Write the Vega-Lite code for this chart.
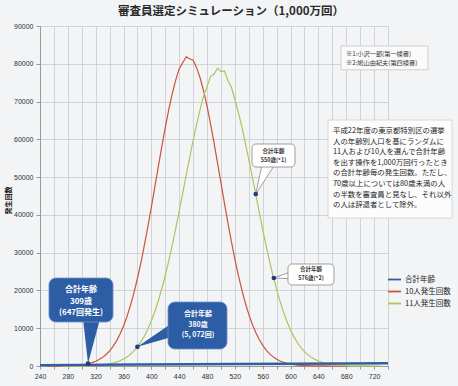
{
  "$schema": "https://vega.github.io/schema/vega-lite/v6.json",
  "width": 348,
  "height": 340,
  "autosize": "none",
  "padding": {"left": 40, "top": 26, "right": 70, "bottom": 20},
  "background": "#f2f4f6",
  "title": {"text": "審査員選定シミュレーション（1,000万回）", "fontSize": 11.5, "fontWeight": "bold", "font": "Noto Sans CJK JP", "color": "#2a2a2a", "anchor": "middle", "dx": 17, "baseline": "bottom", "offset": -6, "frame": "group"},
  "config": {
    "font": "Noto Sans CJK JP",
    "text": {"font": "Noto Sans CJK JP"},
    "legend": {"labelFont": "Noto Sans CJK JP"},
    "view": {"stroke": null},
    "axis": {"labelOverlap": false, "labelBound": false, "labelFlush": false, "grid": true, "gridColor": "#c6cacf", "gridWidth": 0.8, "tickColor": "#999", "domainColor": "#999", "labelFontSize": 7, "labelColor": "#333", "labelPadding": 3, "labelFont": "Liberation Sans", "titleFont": "Noto Sans CJK JP"}
  },
  "datasets": {
    "series": [
      {"age": 250, "series": "10人発生回数", "count": 8},
      {"age": 255, "series": "10人発生回数", "count": 12},
      {"age": 260, "series": "10人発生回数", "count": 18},
      {"age": 265, "series": "10人発生回数", "count": 26},
      {"age": 270, "series": "10人発生回数", "count": 38},
      {"age": 275, "series": "10人発生回数", "count": 52},
      {"age": 280, "series": "10人発生回数", "count": 69},
      {"age": 285, "series": "10人発生回数", "count": 104},
      {"age": 290, "series": "10人発生回数", "count": 153},
      {"age": 295, "series": "10人発生回数", "count": 224},
      {"age": 300, "series": "10人発生回数", "count": 324},
      {"age": 305, "series": "10人発生回数", "count": 462},
      {"age": 309, "series": "10人発生回数", "count": 647},
      {"age": 315, "series": "10人発生回数", "count": 908},
      {"age": 320, "series": "10人発生回数", "count": 1250},
      {"age": 325, "series": "10人発生回数", "count": 1702},
      {"age": 330, "series": "10人発生回数", "count": 2289},
      {"age": 335, "series": "10人発生回数", "count": 3043},
      {"age": 340, "series": "10人発生回数", "count": 3998},
      {"age": 345, "series": "10人発生回数", "count": 5191},
      {"age": 350, "series": "10人発生回数", "count": 6661},
      {"age": 355, "series": "10人発生回数", "count": 8448},
      {"age": 360, "series": "10人発生回数", "count": 10580},
      {"age": 365, "series": "10人発生回数", "count": 13105},
      {"age": 370, "series": "10人発生回数", "count": 16038},
      {"age": 375, "series": "10人発生回数", "count": 19404},
      {"age": 380, "series": "10人発生回数", "count": 23195},
      {"age": 385, "series": "10人発生回数", "count": 27386},
      {"age": 390, "series": "10人発生回数", "count": 31977},
      {"age": 395, "series": "10人発生回数", "count": 36896},
      {"age": 400, "series": "10人発生回数", "count": 42059},
      {"age": 405, "series": "10人発生回数", "count": 47419},
      {"age": 410, "series": "10人発生回数", "count": 52778},
      {"age": 415, "series": "10人発生回数", "count": 58089},
      {"age": 420, "series": "10人発生回数", "count": 63162},
      {"age": 425, "series": "10人発生回数", "count": 67885},
      {"age": 430, "series": "10人発生回数", "count": 72100},
      {"age": 435, "series": "10人発生回数", "count": 75679},
      {"age": 440, "series": "10人発生回数", "count": 78706},
      {"age": 445, "series": "10人発生回数", "count": 80274},
      {"age": 450, "series": "10人発生回数", "count": 81828},
      {"age": 455, "series": "10人発生回数", "count": 81326},
      {"age": 460, "series": "10人発生回数", "count": 80961},
      {"age": 465, "series": "10人発生回数", "count": 78971},
      {"age": 470, "series": "10人発生回数", "count": 76308},
      {"age": 475, "series": "10人発生回数", "count": 72868},
      {"age": 480, "series": "10人発生回数", "count": 68767},
      {"age": 485, "series": "10人発生回数", "count": 64143},
      {"age": 490, "series": "10人発生回数", "count": 59118},
      {"age": 495, "series": "10人発生回数", "count": 53857},
      {"age": 500, "series": "10人発生回数", "count": 48481},
      {"age": 505, "series": "10人発生回数", "count": 43121},
      {"age": 510, "series": "10人発生回数", "count": 37909},
      {"age": 515, "series": "10人発生回数", "count": 32950},
      {"age": 520, "series": "10人発生回数", "count": 28285},
      {"age": 525, "series": "10人発生回数", "count": 24003},
      {"age": 530, "series": "10人発生回数", "count": 20131},
      {"age": 535, "series": "10人発生回数", "count": 16683},
      {"age": 540, "series": "10人発生回数", "count": 13660},
      {"age": 545, "series": "10人発生回数", "count": 11054},
      {"age": 550, "series": "10人発生回数", "count": 8848},
      {"age": 555, "series": "10人発生回数", "count": 6994},
      {"age": 560, "series": "10人発生回数", "count": 5466},
      {"age": 565, "series": "10人発生回数", "count": 4216},
      {"age": 570, "series": "10人発生回数", "count": 3219},
      {"age": 575, "series": "10人発生回数", "count": 2426},
      {"age": 580, "series": "10人発生回数", "count": 1806},
      {"age": 585, "series": "10人発生回数", "count": 1332},
      {"age": 590, "series": "10人発生回数", "count": 969},
      {"age": 595, "series": "10人発生回数", "count": 697},
      {"age": 600, "series": "10人発生回数", "count": 495},
      {"age": 605, "series": "10人発生回数", "count": 348},
      {"age": 610, "series": "10人発生回数", "count": 241},
      {"age": 615, "series": "10人発生回数", "count": 166},
      {"age": 620, "series": "10人発生回数", "count": 112},
      {"age": 625, "series": "10人発生回数", "count": 75},
      {"age": 630, "series": "10人発生回数", "count": 50},
      {"age": 640, "series": "10人発生回数", "count": 22},
      {"age": 650, "series": "10人発生回数", "count": 10},
      {"age": 660, "series": "10人発生回数", "count": 5},
      {"age": 670, "series": "10人発生回数", "count": 2},
      {"age": 680, "series": "10人発生回数", "count": 1},
      {"age": 270, "series": "11人発生回数", "count": 5},
      {"age": 280, "series": "11人発生回数", "count": 10},
      {"age": 290, "series": "11人発生回数", "count": 18},
      {"age": 300, "series": "11人発生回数", "count": 33},
      {"age": 305, "series": "11人発生回数", "count": 49},
      {"age": 310, "series": "11人発生回数", "count": 72},
      {"age": 315, "series": "11人発生回数", "count": 104},
      {"age": 320, "series": "11人発生回数", "count": 149},
      {"age": 325, "series": "11人発生回数", "count": 211},
      {"age": 330, "series": "11人発生回数", "count": 297},
      {"age": 335, "series": "11人発生回数", "count": 413},
      {"age": 340, "series": "11人発生回数", "count": 567},
      {"age": 345, "series": "11人発生回数", "count": 773},
      {"age": 350, "series": "11人発生回数", "count": 1043},
      {"age": 355, "series": "11人発生回数", "count": 1392},
      {"age": 360, "series": "11人発生回数", "count": 1838},
      {"age": 365, "series": "11人発生回数", "count": 2407},
      {"age": 370, "series": "11人発生回数", "count": 3118},
      {"age": 375, "series": "11人発生回数", "count": 3999},
      {"age": 380, "series": "11人発生回数", "count": 5072},
      {"age": 385, "series": "11人発生回数", "count": 6382},
      {"age": 390, "series": "11人発生回数", "count": 7952},
      {"age": 395, "series": "11人発生回数", "count": 9797},
      {"age": 400, "series": "11人発生回数", "count": 11956},
      {"age": 405, "series": "11人発生回数", "count": 14444},
      {"age": 410, "series": "11人発生回数", "count": 17278},
      {"age": 415, "series": "11人発生回数", "count": 20457},
      {"age": 420, "series": "11人発生回数", "count": 23982},
      {"age": 425, "series": "11人発生回数", "count": 27836},
      {"age": 430, "series": "11人発生回数", "count": 31981},
      {"age": 435, "series": "11人発生回数", "count": 36385},
      {"age": 440, "series": "11人発生回数", "count": 40977},
      {"age": 445, "series": "11人発生回数", "count": 45703},
      {"age": 450, "series": "11人発生回数", "count": 50460},
      {"age": 455, "series": "11人発生回数", "count": 55154},
      {"age": 460, "series": "11人発生回数", "count": 59691},
      {"age": 465, "series": "11人発生回数", "count": 63962},
      {"age": 470, "series": "11人発生回数", "count": 67848},
      {"age": 475, "series": "11人発生回数", "count": 71454},
      {"age": 480, "series": "11人発生回数", "count": 73888},
      {"age": 485, "series": "11人発生回数", "count": 76671},
      {"age": 490, "series": "11人発生回数", "count": 77231},
      {"age": 495, "series": "11人発生回数", "count": 78837},
      {"age": 500, "series": "11人発生回数", "count": 77959},
      {"age": 505, "series": "11人発生回数", "count": 78103},
      {"age": 510, "series": "11人発生回数", "count": 75594},
      {"age": 515, "series": "11人発生回数", "count": 73778},
      {"age": 520, "series": "11人発生回数", "count": 70619},
      {"age": 525, "series": "11人発生回数", "count": 67110},
      {"age": 530, "series": "11人発生回数", "count": 63338},
      {"age": 535, "series": "11人発生回数", "count": 59012},
      {"age": 540, "series": "11人発生回数", "count": 54636},
      {"age": 545, "series": "11人発生回数", "count": 50000},
      {"age": 550, "series": "11人発生回数", "count": 45500},
      {"age": 555, "series": "11人発生回数", "count": 40800},
      {"age": 560, "series": "11人発生回数", "count": 36100},
      {"age": 565, "series": "11人発生回数", "count": 31700},
      {"age": 570, "series": "11人発生回数", "count": 27600},
      {"age": 575, "series": "11人発生回数", "count": 23700},
      {"age": 576, "series": "11人発生回数", "count": 23300},
      {"age": 580, "series": "11人発生回数", "count": 20200},
      {"age": 585, "series": "11人発生回数", "count": 17000},
      {"age": 590, "series": "11人発生回数", "count": 14200},
      {"age": 595, "series": "11人発生回数", "count": 11700},
      {"age": 600, "series": "11人発生回数", "count": 9550},
      {"age": 605, "series": "11人発生回数", "count": 7700},
      {"age": 610, "series": "11人発生回数", "count": 6150},
      {"age": 615, "series": "11人発生回数", "count": 4870},
      {"age": 620, "series": "11人発生回数", "count": 3820},
      {"age": 625, "series": "11人発生回数", "count": 2960},
      {"age": 630, "series": "11人発生回数", "count": 2284},
      {"age": 635, "series": "11人発生回数", "count": 1743},
      {"age": 640, "series": "11人発生回数", "count": 1311},
      {"age": 645, "series": "11人発生回数", "count": 981},
      {"age": 650, "series": "11人発生回数", "count": 727},
      {"age": 655, "series": "11人発生回数", "count": 533},
      {"age": 660, "series": "11人発生回数", "count": 386},
      {"age": 665, "series": "11人発生回数", "count": 278},
      {"age": 670, "series": "11人発生回数", "count": 197},
      {"age": 675, "series": "11人発生回数", "count": 139},
      {"age": 680, "series": "11人発生回数", "count": 97},
      {"age": 685, "series": "11人発生回数", "count": 67},
      {"age": 690, "series": "11人発生回数", "count": 46},
      {"age": 700, "series": "11人発生回数", "count": 20},
      {"age": 710, "series": "11人発生回数", "count": 9},
      {"age": 720, "series": "11人発生回数", "count": 4},
      {"age": 730, "series": "11人発生回数", "count": 2},
      {"age": 240, "series": "合計年齢", "count": 240},
      {"age": 300, "series": "合計年齢", "count": 300},
      {"age": 380, "series": "合計年齢", "count": 380},
      {"age": 460, "series": "合計年齢", "count": 460},
      {"age": 520, "series": "合計年齢", "count": 520},
      {"age": 600, "series": "合計年齢", "count": 600},
      {"age": 680, "series": "合計年齢", "count": 680},
      {"age": 740, "series": "合計年齢", "count": 740}
    ],
    "marked": [
      {"age": 309, "count": 647},
      {"age": 380, "count": 5072},
      {"age": 550, "count": 45500},
      {"age": 576, "count": 23300}
    ]
  },
  "layer": [
    {
      "data": {"name": "series"},
      "transform": [{"filter": "datum.series != '合計年齢'"}],
      "mark": {"type": "line", "strokeWidth": 1.2},
      "encoding": {
        "x": {"field": "age", "type": "quantitative",
          "scale": {"domain": [240, 740], "nice": false, "zero": false},
          "axis": {"title": null, "values": [240,260,280,300,320,340,360,380,400,420,440,460,480,500,520,540,560,580,600,620,640,660,680,700,720,740],
            "tickCount": 40,
            "labelExpr": "datum.value % 40 == 0 && datum.value < 740 ? datum.label : ''",
            "labelOverlap": false, "format": "d", "tickSize": 3}},
        "y": {"field": "count", "type": "quantitative",
          "scale": {"domain": [0, 90000], "nice": false},
          "axis": {"title": "発生回数", "values": [0,10000,20000,30000,40000,50000,60000,70000,80000,90000],
            "tickCount": 20,
            "labelOverlap": false, "format": "d", "tickSize": 4,
            "titleFontSize": 7, "titleFontWeight": "bold", "titleColor": "#222", "titleX": -32, "titleY": 174, "titleAngle": -90, "titleBaseline": "middle", "titleAlign": "center"}},
        "color": {"field": "series", "type": "nominal",
          "scale": {"domain": ["合計年齢", "10人発生回数", "11人発生回数"], "range": ["#2f5f9f", "#c9553f", "#b2c35a"]},
          "legend": {"orient": "none", "legendX": 347, "legendY": 246, "title": null, "symbolType": "stroke", "symbolSize": 169, "symbolStrokeWidth": 1.8, "labelFontSize": 7.5, "labelColor": "#222", "rowPadding": 0, "labelOffset": 3, "padding": 0}}
      }
    },
    {
      "data": {"name": "series"},
      "transform": [{"filter": "datum.series == '合計年齢'"}],
      "mark": {"type": "line", "strokeWidth": 2.4},
      "encoding": {
        "x": {"field": "age", "type": "quantitative"},
        "y": {"field": "count", "type": "quantitative"},
        "color": {"field": "series", "type": "nominal"}
      }
    },
    {
      "data": {"values": [{}]},
      "mark": {"type": "point", "shape": "M0,0 L-0.12,-1.08 L0.29,-1.08 Z", "size": 7056, "filled": true, "fill": "#2d5da5", "opacity": 1, "strokeWidth": 0},
      "encoding": {"x": {"datum": 309}, "y": {"datum": 647}}
    },
    {
      "data": {"values": [{}]},
      "mark": {"type": "point", "shape": "M0,0 L1.06,-0.73 L1.06,-0.3 Z", "size": 3600, "filled": true, "fill": "#2d5da5", "opacity": 1, "strokeWidth": 0},
      "encoding": {"x": {"datum": 380}, "y": {"datum": 5072}}
    },
    {
      "data": {"values": [{}]},
      "mark": {"type": "point", "shape": "M0,0 L0.22,-1.04 L0.67,-1.04 Z", "size": 2916, "filled": true, "fill": "#ffffff", "opacity": 1, "stroke": "#777", "strokeWidth": 0.7},
      "encoding": {"x": {"datum": 550}, "y": {"datum": 45500}}
    },
    {
      "data": {"values": [{}]},
      "mark": {"type": "point", "shape": "M0,0 L1.1,-0.4 L1.1,0.05 Z", "size": 784, "filled": true, "fill": "#ffffff", "opacity": 1, "stroke": "#777", "strokeWidth": 0.7},
      "encoding": {"x": {"datum": 576}, "y": {"datum": 23300}}
    },
    {
      "data": {"values": [{}]},
      "mark": {"type": "rect", "fill": "#2d5da5", "cornerRadius": 7, "stroke": "#7090c6", "strokeWidth": 0.8},
      "encoding": {"x": {"datum": 252.9}, "x2": {"datum": 344.9}, "y": {"datum": 23294}, "y2": {"datum": 11647}}
    },
    {
      "data": {"values": [{}]},
      "mark": {"type": "rect", "fill": "#2d5da5", "cornerRadius": 7, "stroke": "#7090c6", "strokeWidth": 0.8},
      "encoding": {"x": {"datum": 423.9}, "x2": {"datum": 508.7}, "y": {"datum": 16941}, "y2": {"datum": 4500}}
    },
    {
      "data": {"values": [{}]},
      "mark": {"type": "rect", "fill": "#ffffff", "cornerRadius": 4, "stroke": "#777", "strokeWidth": 0.7},
      "encoding": {"x": {"datum": 544.6}, "x2": {"datum": 606.4}, "y": {"datum": 58763}, "y2": {"datum": 52675}}
    },
    {
      "data": {"values": [{}]},
      "mark": {"type": "rect", "fill": "#ffffff", "cornerRadius": 4, "stroke": "#777", "strokeWidth": 0.7},
      "encoding": {"x": {"datum": 596.3}, "x2": {"datum": 662.4}, "y": {"datum": 27000}, "y2": {"datum": 21441}}
    },
    {
      "data": {"values": [{}]},
      "mark": {"type": "rect", "fill": "#fafafa", "stroke": "#c4c4c4", "strokeWidth": 0.8},
      "encoding": {"x": {"datum": 672.5}, "x2": {"datum": 797.5}, "y": {"datum": 84700}, "y2": {"datum": 78400}}
    },
    {
      "data": {"values": [{}]},
      "mark": {"type": "rect", "fill": "#fcfcfc", "stroke": "#d0d0d0", "strokeWidth": 0.8},
      "encoding": {"x": {"datum": 653.8}, "x2": {"datum": 832}, "y": {"datum": 65116}, "y2": {"datum": 39176}}
    },
    {
      "data": {"name": "marked"},
      "mark": {"type": "point", "filled": true, "size": 22, "color": "#1f3e7a", "opacity": 1},
      "encoding": {"x": {"field": "age", "type": "quantitative"}, "y": {"field": "count", "type": "quantitative"}}
    },
    {
      "data": {"values": [{}]},
      "mark": {"type": "text", "font": "Noto Sans CJK JP", "align": "center", "baseline": "middle", "fontSize": 8, "fontWeight": "bold", "color": "#ffffff", "lineHeight": 11.5},
      "encoding": {"x": {"datum": 298.9}, "y": {"datum": 20117}, "text": {"value": ["合計年齢", "309歳", "(647回発生)"]}}
    },
    {
      "data": {"values": [{}]},
      "mark": {"type": "text", "font": "Noto Sans CJK JP", "align": "center", "baseline": "middle", "fontSize": 7, "fontWeight": "bold", "color": "#ffffff", "lineHeight": 10.5},
      "encoding": {"x": {"datum": 467}, "y": {"datum": 13764}, "text": {"value": ["合計年齢", "380歳", "(5, 072回)"]}}
    },
    {
      "data": {"values": [{}]},
      "mark": {"type": "text", "font": "Noto Sans CJK JP", "align": "center", "baseline": "middle", "fontSize": 5.5, "fontWeight": "bold", "color": "#333", "lineHeight": 8.5},
      "encoding": {"x": {"datum": 575.5}, "y": {"datum": 56911}, "text": {"value": ["合計年齢", "550歳(*1)"]}}
    },
    {
      "data": {"values": [{}]},
      "mark": {"type": "text", "font": "Noto Sans CJK JP", "align": "center", "baseline": "middle", "fontSize": 5.5, "fontWeight": "bold", "color": "#333", "lineHeight": 9},
      "encoding": {"x": {"datum": 629.4}, "y": {"datum": 25676}, "text": {"value": ["合計年齢", "576歳(*2)"]}}
    },
    {
      "data": {"values": [{}]},
      "mark": {"type": "text", "font": "Noto Sans CJK JP", "align": "left", "baseline": "middle", "fontSize": 6.2, "color": "#333", "lineHeight": 8.6},
      "encoding": {"x": {"datum": 679.7}, "y": {"datum": 82500}, "text": {"value": ["※1:小沢一郎(第一検審)", "※2:鳩山由紀夫(第四検審)"]}}
    },
    {
      "data": {"values": [{}]},
      "mark": {"type": "text", "font": "Noto Sans CJK JP", "align": "left", "baseline": "middle", "fontSize": 7.4, "color": "#1e1e1e", "lineHeight": 10.6},
      "encoding": {"x": {"datum": 661}, "y": {"datum": 62205}, "text": {"value": ["平成22年度の東京都特別区の選挙", "人の年齢別人口を基にランダムに", "11人および10人を選んで合計年齢", "を出す操作を1,000万回行ったとき", "の合計年齢毎の発生回数。ただし、", "70歳以上については80歳未満の人", "の半数を審査員と見なし、それ以外", "の人は辞退者として除外。"]}}
    }
  ]
}
